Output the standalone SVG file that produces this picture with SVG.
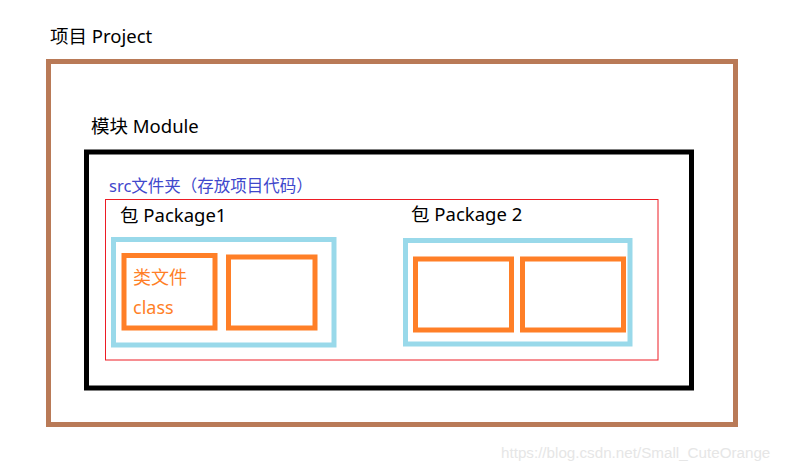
<svg xmlns="http://www.w3.org/2000/svg" width="792" height="471" viewBox="0 0 792 471">
<style>
text{font-family:"Noto Sans","Noto Sans CJK SC",sans-serif;font-size:18.5px;fill:#000}
.box{fill:none}
.proj{stroke:#b97a57;stroke-width:5}
.mod{stroke:#000;stroke-width:5}
.src{stroke:#ed1c24;stroke-width:1}
.pkg{stroke:#99d9ea;stroke-width:5}
.cls{stroke:#ff7f27;stroke-width:5}
.blue{fill:#3f48cc;font-size:16.5px}
.orange{fill:#ff7f27;font-size:18px}
.wm{fill:#e6e6e6;font-family:"Liberation Sans",sans-serif;font-size:15.2px}
</style>
<rect width="792" height="471" fill="#fff"/>
<g id="project">
<rect class="box proj" x="48.5" y="61.5" width="687" height="363"/>
<text x="50" y="43">项目 Project</text>
</g>
<g id="module">
<rect class="box mod" x="86.5" y="152" width="605" height="236"/>
<text x="91" y="133">模块 Module</text>
</g>
<g id="src">
<rect class="box src" x="105.5" y="199.5" width="552.5" height="160.5"/>
<text class="blue" x="109" y="192">src文件夹（存放项目代码）</text>
</g>
<g id="package1">
<rect class="box pkg" x="113.5" y="239.5" width="220.5" height="105.5"/>
<text x="120" y="221.5">包 Package1</text>
</g>
<g id="class1">
<rect class="box cls" x="124" y="255.5" width="91" height="72.5"/>
<text class="orange" x="133" y="284">类文件</text>
<text class="orange" x="133" y="314">class</text>
</g>
<g id="class2">
<rect class="box cls" x="228.5" y="257" width="86.5" height="71"/>
</g>
<g id="package2">
<rect class="box pkg" x="405.5" y="240.5" width="224.5" height="103.5"/>
<text x="411" y="221">包 Package 2</text>
</g>
<g id="class3">
<rect class="box cls" x="415.5" y="259" width="96" height="71"/>
</g>
<g id="class4">
<rect class="box cls" x="522.5" y="259" width="101" height="71"/>
</g>
<g id="connectors"></g>
<text class="wm" x="501" y="458">https://blog.csdn.net/Small_CuteOrange</text>
</svg>
